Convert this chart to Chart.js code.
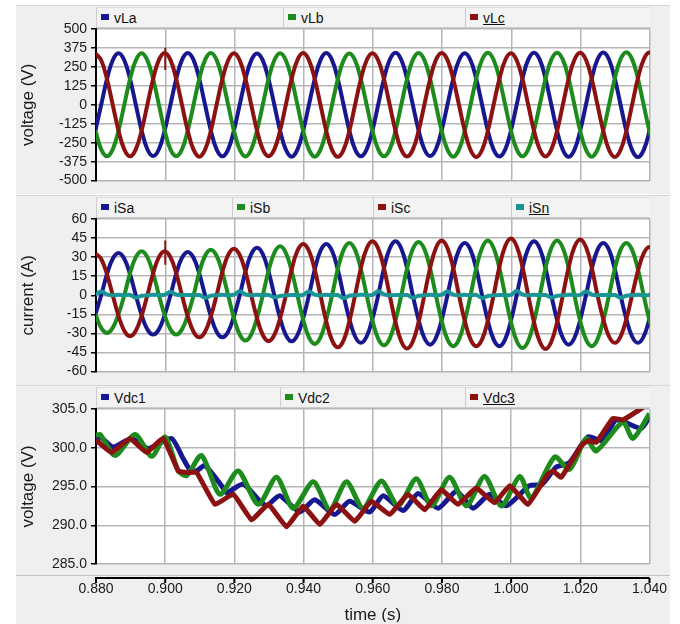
<!DOCTYPE html>
<html>
<head>
<meta charset="utf-8">
<script src="https://cdn.jsdelivr.net/npm/chart.js@4.4.0/dist/chart.umd.min.js"></script>
<style>
  body { margin: 0; background: #fff; width: 680px; height: 624px; position: relative; overflow: hidden;
         font-family: "Liberation Sans", Arial, sans-serif; }
  .panel { position: absolute; left: 16px; width: 654px; background: #efefef; border-top: 1px solid #d6d6d6; }
  .legend { position: absolute; left: 96px; width: 554px; height: 21px; display: flex; z-index: 1; }
  .cell { position: relative; height: 100%; box-sizing: border-box; background: #f3f3f3;
          border-left: 1px solid #cdcdcd; border-bottom: 1px solid #cdcdcd; border-top: 1px solid #e0e0e0;
          font-size: 14px; line-height: 20px; padding-left: 17px; color: #111; }
  .cell i { position: absolute; left: 4px; top: 6px; width: 8px; height: 6px; }
  .cell u { text-decoration: underline; }
  canvas { position: absolute; left: 16px; z-index: 2; }
</style>
</head>
<body>
<div class="panel" style="top:5px;height:188px"></div>
<div class="panel" style="top:195px;height:189px"></div>
<div class="panel" style="top:385px;height:238px"></div>

<div class="legend" style="top:7px">
  <div class="cell" style="width:187px"><i style="background:#17178f"></i>vLa</div>
  <div class="cell" style="width:182px"><i style="background:#1d8c1d"></i>vLb</div>
  <div class="cell" style="width:185px"><i style="background:#8c1212"></i><u>vLc</u></div>
</div>
<div class="legend" style="top:197px">
  <div class="cell" style="width:136px"><i style="background:#17178f"></i>iSa</div>
  <div class="cell" style="width:141px"><i style="background:#1d8c1d"></i>iSb</div>
  <div class="cell" style="width:138px"><i style="background:#8c1212"></i>iSc</div>
  <div class="cell" style="width:139px"><i style="background:#1a9595"></i><u>iSn</u></div>
</div>
<div class="legend" style="top:387px">
  <div class="cell" style="width:184px"><i style="background:#17178f"></i>Vdc1</div>
  <div class="cell" style="width:185px"><i style="background:#1d8c1d"></i>Vdc2</div>
  <div class="cell" style="width:185px"><i style="background:#8c1212"></i><u>Vdc3</u></div>
</div>

<canvas id="c1" width="654" height="185" style="top:8px"></canvas>
<canvas id="c2" width="654" height="187" style="top:197px"></canvas>
<canvas id="c3" width="654" height="235" style="top:387px"></canvas>

<script>
// time grid for the ac waveforms (s)
const timeAC = [0.87983,
  0.8815, 0.88317, 0.88483, 0.8865, 0.88817, 0.88983, 0.8915, 0.89317, 0.89483, 0.8965, 0.89817, 0.89983,
  0.9015, 0.90317, 0.90483, 0.9065, 0.90817, 0.90983, 0.9115, 0.91317, 0.91483, 0.9165, 0.91817, 0.91983,
  0.9215, 0.92317, 0.92483, 0.9265, 0.92817, 0.92983, 0.9315, 0.93317, 0.93483, 0.9365, 0.93817, 0.93983,
  0.9415, 0.94317, 0.94483, 0.9465, 0.94817, 0.94983, 0.9515, 0.95317, 0.95483, 0.9565, 0.95817, 0.95983,
  0.9615, 0.96317, 0.96483, 0.9665, 0.96817, 0.96983, 0.9715, 0.97317, 0.97483, 0.9765, 0.97817, 0.97983,
  0.9815, 0.98317, 0.98483, 0.9865, 0.98817, 0.98983, 0.9915, 0.99317, 0.99483, 0.9965, 0.99817, 0.99983,
  1.0015, 1.00317, 1.00483, 1.0065, 1.00817, 1.00983, 1.0115, 1.01317, 1.01483, 1.0165, 1.01817, 1.01983,
  1.0215, 1.02317, 1.02483, 1.0265, 1.02817, 1.02983, 1.0315, 1.03317, 1.03483, 1.0365, 1.03817, 1.03983,
  1.0415];

// line voltages (V)
const vLa = [-170,
  0, 170, 294, 340, 294, 170, 0, -169, -293, -338, -293, -169,
  0, 171, 296, 342, 296, 171, 0, -170, -294, -340, -294, -170,
  0, 169, 293, 338, 293, 169, 0, -171, -296, -342, -296, -171,
  0, 171, 295, 341, 295, 171, 0, -170, -294, -340, -294, -170,
  0, 172, 297, 343, 297, 172, 0, -169, -293, -338, -293, -169,
  0, 170, 294, 340, 294, 170, 0, -171, -296, -341, -296, -171,
  0, 172, 298, 344, 298, 172, 0, -172, -297, -343, -297, -172,
  0, 173, 299, 345, 299, 173, 0, -173, -299, -345, -299, -173,
  0];
const vLb = [-170,
  -294, -340, -294, -170, 0, 170, 294, 340, 294, 170, 0, -170,
  -294, -339, -294, -170, 0, 171, 296, 342, 296, 171, 0, -170,
  -295, -341, -295, -170, 0, 170, 294, 340, 294, 170, 0, -171,
  -296, -342, -296, -171, 0, 169, 293, 338, 293, 169, 0, -170,
  -294, -340, -294, -170, 0, 171, 296, 342, 296, 171, 0, -171,
  -296, -342, -296, -171, 0, 172, 297, 343, 297, 172, 0, -170,
  -294, -340, -294, -170, 0, 172, 298, 344, 298, 172, 0, -171,
  -296, -342, -296, -171, 0, 174, 301, 347, 301, 174, 0, -171,
  -296];
const vLc = [340,
  294, 170, 0, -170, -294, -340, -294, -170, 0, 171, 296, 342,
  296, 171, 0, -171, -296, -342, -296, -171, 0, 170, 294, 340,
  294, 170, 0, -170, -294, -339, -294, -170, 0, 171, 295, 341,
  295, 171, 0, -172, -297, -343, -297, -172, 0, 170, 294, 340,
  294, 170, 0, -171, -296, -341, -296, -171, 0, 171, 296, 342,
  296, 171, 0, -172, -298, -344, -298, -172, 0, 170, 294, 340,
  294, 170, 0, -171, -295, -341, -295, -171, 0, 172, 297, 343,
  297, 172, 0, -172, -298, -344, -298, -172, 0, 173, 299, 345,
  299];

// source currents (A)
const iSa = [-15.2,
  0, 16.7, 28.8, 33.3, 28.8, 16.7, 0, -15.5, -26.8, -30.9, -26.8, -15.5,
  0, 17.1, 29.5, 34.1, 29.5, 17.1, 0, -16.5, -28.6, -33.0, -28.6, -16.5,
  0, 18.7, 32.3, 37.3, 32.3, 18.7, 0, -18.1, -31.3, -36.2, -31.3, -18.1,
  0, 20.2, 35.0, 40.4, 35.0, 20.2, 0, -18.7, -32.4, -37.4, -32.4, -18.7,
  0, 21.3, 36.8, 42.5, 36.8, 21.3, 0, -19.4, -33.6, -38.8, -33.6, -19.4,
  0, 20.6, 35.7, 41.2, 35.7, 20.6, 0, -20.1, -34.7, -40.1, -34.7, -20.1,
  0, 21.3, 36.8, 42.5, 36.8, 21.3, 0, -19.4, -33.6, -38.8, -33.6, -19.4,
  0, 20.6, 35.7, 41.2, 35.7, 20.6, 0, -18.7, -32.4, -37.4, -32.4, -18.7,
  0];
const iSb = [-14.8,
  -25.6, -29.6, -25.6, -14.8, 0, 17.3, 30.0, 34.6, 30.0, 17.3, 0, -15.5,
  -26.8, -30.9, -26.8, -15.5, 0, 18.0, 31.1, 35.9, 31.1, 18.0, 0, -17.8,
  -30.8, -35.6, -30.8, -17.8, 0, 19.3, 33.3, 38.5, 33.3, 19.3, 0, -19.1,
  -33.1, -38.2, -33.1, -19.1, 0, 20.6, 35.7, 41.2, 35.7, 20.6, 0, -19.7,
  -34.0, -39.3, -34.0, -19.7, 0, 21.0, 36.4, 42.0, 36.4, 21.0, 0, -20.1,
  -34.7, -40.1, -34.7, -20.1, 0, 21.5, 37.2, 43.0, 37.2, 21.5, 0, -20.7,
  -35.9, -41.4, -35.9, -20.7, 0, 21.5, 37.2, 43.0, 37.2, 21.5, 0, -20.1,
  -34.7, -40.1, -34.7, -20.1, 0, 20.6, 35.7, 41.2, 35.7, 20.6, 0, -19.5,
  -33.8];
const iSc = [33.0,
  28.6, 16.5, 0, -16.1, -27.9, -32.2, -27.9, -16.1, 0, 17.3, 30.0, 34.6,
  30.0, 17.3, 0, -16.5, -28.6, -33.0, -28.6, -16.5, 0, 18.4, 31.8, 36.7,
  31.8, 18.4, 0, -18.0, -31.2, -36.0, -31.2, -18.0, 0, 20.2, 35.0, 40.4,
  35.0, 20.2, 0, -20.5, -35.4, -40.9, -35.4, -20.5, 0, 21.3, 36.8, 42.5,
  36.8, 21.3, 0, -21.0, -36.3, -41.9, -36.3, -21.0, 0, 21.5, 37.2, 43.0,
  37.2, 21.5, 0, -20.1, -34.7, -40.1, -34.7, -20.1, 0, 22.3, 38.6, 44.6,
  38.6, 22.3, 0, -21.1, -36.5, -42.2, -36.5, -21.1, 0, 21.9, 37.9, 43.8,
  37.9, 21.9, 0, -18.7, -32.4, -37.4, -32.4, -18.7, 0, 19.0, 32.9, 38.0,
  32.9];
const iSn = [0.5,
  3.0, 0.8, 0, 0.4, 0, 0.3, -1.8, -0.4, 0, 0.5, 0.2, 0.4,
  2.8, 0.6, 0.2, 0.3, 0, 0.2, -2.0, -0.3, 0, 0.4, 0.1, 0.5,
  3.2, 0.7, 0, 0.5, 0.1, 0.3, -1.6, -0.5, 0, 0.3, 0, 0.4,
  3.0, 0.5, 0.1, 0.4, 0, 0.2, -2.2, -0.4, 0.1, 0.5, 0.2, 0.3,
  3.1, 0.8, 0, 0.3, 0, 0.2, -1.9, -0.3, 0, 0.4, 0.1, 0.5,
  2.9, 0.6, 0.1, 0.4, 0, 0.3, -2.1, -0.5, 0, 0.3, 0, 0.4,
  3.3, 0.7, 0, 0.5, 0.1, 0.2, -1.8, -0.4, 0, 0.5, 0.2, 0.3,
  3.0, 0.6, 0.1, 0.3, 0, 0.2, -2.0, -0.3, 0, 0.4, 0.1, 0.4,
  2.9];

// switching spike at t = 0.900 s on phase c
const spikeT = [0.9, 0.9];
const vLcSpike = [376, 229];
const iScSpike = [43, 24];

// dc link voltages (V), each with its own sample times
const tVdc1 = [0.880, 0.8812, 0.885, 0.8903, 0.8951, 0.9018, 0.9052, 0.9071, 0.909, 0.9115, 0.9163, 0.9177,
  0.9225, 0.9274, 0.9293, 0.9331, 0.9389, 0.9432, 0.949, 0.9533, 0.9591, 0.963, 0.9688, 0.9731, 0.9789,
  0.9842, 0.989, 0.9938, 0.9986, 1.0053, 1.009, 1.013, 1.0169, 1.0222, 1.0265, 1.0304, 1.0376, 1.040];
const vdc1 = [301.2, 301.4, 300.1, 301.2, 299.9, 301.2, 298.6, 297.2, 297.0, 297.7, 295.1, 294.2,
  295.3, 293.1, 292.5, 293.8, 291.7, 293.3, 291.4, 293.1, 291.7, 293.8, 291.9, 294.1, 292.2,
  294.4, 292.2, 294.0, 292.5, 295.1, 295.3, 297.5, 298.1, 301.4, 300.9, 303.6, 302.5, 304.0];
const tVdc2 = [0.880, 0.8812, 0.8855, 0.8913, 0.8961, 0.900, 0.9038, 0.9062, 0.9105, 0.9158, 0.9211, 0.9269,
  0.9322, 0.937, 0.9428, 0.9476, 0.9524, 0.9572, 0.9625, 0.9673, 0.9726, 0.977, 0.9822, 0.9871, 0.9923,
  0.9972, 1.0025, 1.0058, 1.0126, 1.0169, 1.0217, 1.0246, 1.0323, 1.0352, 1.040];
const vdc2 = [301.6, 301.7, 299.0, 301.7, 298.9, 301.4, 297.0, 296.4, 299.0, 294.0, 297.0, 292.7,
  296.2, 292.2, 295.6, 292.0, 295.6, 292.2, 295.7, 292.5, 296.0, 292.5, 296.2, 292.5, 296.3,
  292.5, 296.3, 293.5, 298.8, 297.2, 301.2, 299.6, 303.3, 301.2, 304.4];
const tVdc3 = [0.880, 0.8845, 0.8898, 0.8946, 0.8994, 0.9038, 0.9062, 0.9091, 0.9144, 0.9197, 0.925, 0.9298,
  0.9351, 0.9399, 0.9447, 0.9495, 0.9548, 0.9596, 0.9649, 0.9702, 0.975, 0.9798, 0.9846, 0.9899, 0.9952,
  0.9996, 1.0049, 1.0106, 1.0121, 1.0145, 1.0203, 1.0222, 1.0246, 1.0294, 1.0323, 1.0371, 1.040];
const vdc3 = [301.0, 299.4, 301.2, 299.4, 301.2, 297.0, 296.8, 296.8, 292.7, 294.0, 290.7, 292.7,
  289.8, 292.5, 290.1, 292.7, 290.5, 293.1, 291.4, 294.0, 292.0, 294.6, 292.7, 294.8, 292.9,
  295.1, 292.7, 296.6, 297.0, 296.2, 300.3, 300.9, 300.7, 303.8, 303.6, 304.9, 305.8];

const BLUE = "#17178f";
const GREEN = "#1d8c1d";
const RED = "#8c1212";
const TEAL = "#1a9595";

Chart.defaults.font.family = '"Liberation Sans", Arial, sans-serif';
Chart.defaults.font.size = 14;
Chart.defaults.color = "#1a1a1a";

function pts(xs, ys) {
  return ys.map((y, i) => ({ x: xs[i], y: y }));
}

function line(label, xs, ys, color, width, tension, order) {
  return { label, data: pts(xs, ys), borderColor: color, backgroundColor: color,
           borderWidth: width, tension: tension, pointRadius: 0, fill: false, order: order };
}

// white plot area under the grid
const plotBg = {
  id: "plotBg",
  beforeDraw(chart) {
    const { ctx, chartArea: a } = chart;
    ctx.save();
    ctx.fillStyle = "#fff";
    ctx.fillRect(a.left, a.top, a.right - a.left, a.bottom - a.top);
    ctx.restore();
  }
};

// detached time axis under the last panel
const timeAxis = {
  id: "timeAxis",
  afterDraw(chart) {
    const { ctx, chartArea: a, scales: { x } } = chart;
    const y0 = a.bottom + 14;
    ctx.save();
    ctx.strokeStyle = "#c4c4c4";
    ctx.lineWidth = 1;
    ctx.beginPath();
    ctx.moveTo(0, a.bottom + 11.5);
    ctx.lineTo(chart.width, a.bottom + 11.5);
    ctx.stroke();
    ctx.strokeStyle = "#000";
    ctx.lineWidth = 2;
    ctx.beginPath();
    ctx.moveTo(a.left - 1, y0);
    ctx.lineTo(a.right, y0);
    x.ticks.forEach((t, i) => {
      const px = x.getPixelForTick(i);
      ctx.moveTo(px, y0);
      ctx.lineTo(px, y0 + 5);
    });
    ctx.stroke();
    ctx.restore();
  }
};

function panel(canvasId, datasets, cfg) {
  const xAxis = {
    type: "linear", min: 0.88, max: 1.04,
    ticks: { stepSize: 0.02, display: cfg.showX, padding: 3, maxRotation: 0, autoSkip: false,
             callback: (v) => v.toFixed(3) },
    grid: { color: "#b5b5b5", lineWidth: 1.5, drawTicks: cfg.showX, tickLength: 14, tickColor: "rgba(0,0,0,0)" },
    border: { display: false },
    title: { display: cfg.showX, text: "time (s)", font: { size: 17 }, padding: { top: 0, bottom: -4 } },
    afterFit: (s) => { s.height = cfg.xHeight; }
  };
  const yAxis = {
    min: cfg.min, max: cfg.max,
    ticks: { stepSize: cfg.step, padding: 4, autoSkip: false, callback: cfg.fmt },
    grid: { color: "#b5b5b5", lineWidth: 1.5, tickColor: "#000", tickLength: 5, tickWidth: 1.5 },
    border: { display: true, color: "#000", width: 2 },
    title: { display: true, text: cfg.title, font: { size: 17 }, padding: { top: 2, bottom: 0 } },
    afterFit: (s) => { s.width = 80; }
  };
  new Chart(document.getElementById(canvasId), {
    type: "line",
    data: { datasets: datasets },
    options: {
      responsive: false, animation: false, devicePixelRatio: 1,
      layout: { padding: { top: cfg.padTop, bottom: cfg.padBottom, right: cfg.padRight, left: 0 } },
      plugins: { legend: { display: false }, tooltip: { enabled: false } },
      scales: { x: xAxis, y: yAxis }
    },
    plugins: cfg.showX ? [plotBg, timeAxis] : [plotBg]
  });
}

panel("c1", [
  line("vLa", timeAC, vLa, BLUE, 4, 0.4, 3),
  line("vLb", timeAC, vLb, GREEN, 4, 0.4, 2),
  line("vLc", timeAC, vLc, RED, 4, 0.4, 1),
  line("vLc spike", spikeT, vLcSpike, RED, 2, 0, 0)
], { min: -500, max: 500, step: 125, title: "voltage (V)", fmt: (v) => String(v),
     padTop: 21, padBottom: 8, padRight: 20, showX: false, xHeight: 0 });

panel("c2", [
  line("iSa", timeAC, iSa, BLUE, 4, 0.4, 4),
  line("iSb", timeAC, iSb, GREEN, 4, 0.4, 3),
  line("iSc", timeAC, iSc, RED, 4, 0.4, 2),
  line("iSc spike", spikeT, iScSpike, RED, 2, 0, 1),
  line("iSn", timeAC, iSn, TEAL, 4, 0.4, 0)
], { min: -60, max: 60, step: 15, title: "current (A)", fmt: (v) => String(v),
     padTop: 22, padBottom: 9, padRight: 20, showX: false, xHeight: 0 });

panel("c3", [
  line("Vdc1", tVdc1, vdc1, BLUE, 5, 0.2, 2),
  line("Vdc2", tVdc2, vdc2, GREEN, 5, 0.25, 1),
  line("Vdc3", tVdc3, vdc3, RED, 5, 0.1, 0)
], { min: 285, max: 305, step: 5, title: "voltage (V)", fmt: (v) => v.toFixed(1),
     padTop: 22, padBottom: 0, padRight: 0, showX: true, xHeight: 58 });
</script>
</body>
</html>
